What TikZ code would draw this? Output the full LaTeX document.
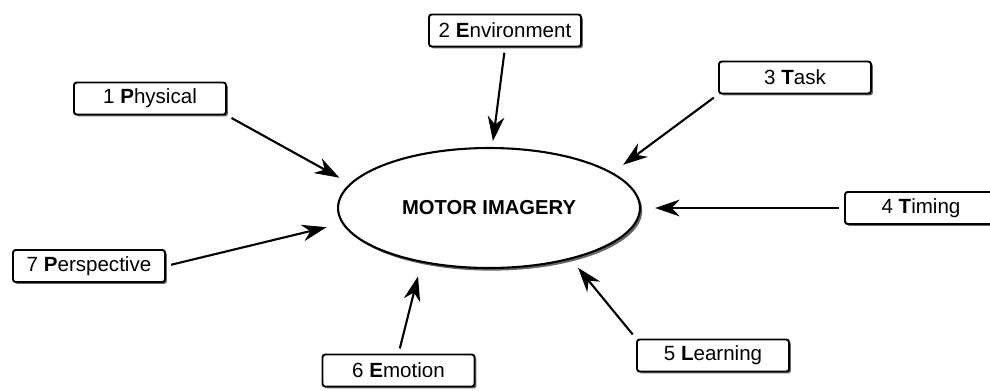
\documentclass[tikz,border=0pt]{standalone}
\usepackage{fontspec}
\setmainfont{Liberation Sans}
\usepackage{tikz}
\usetikzlibrary{arrows.meta,shapes.geometric,shadows}

\begin{document}
\begin{tikzpicture}[x=0.02cm,y=-0.02cm,
  factor/.style={draw,line width=1.1pt,rounded corners=1.5pt,fill=white,
    minimum width=3.04cm,minimum height=0.64cm,inner sep=0pt,
    font=\fontsize{11.7}{14}\selectfont,
    drop shadow={shadow xshift=1.1pt,shadow yshift=-1.1pt,fill=black!75,opacity=0.8}},
  feed/.style={-{Stealth[length=14pt,width=9.5pt,inset=4.5pt]},line width=1.2pt,shorten <=3pt}]
\useasboundingbox (0,0) rectangle (990,390);

% Centre
\node[ellipse,draw,line width=1.2pt,fill=white,minimum width=6.04cm,minimum height=2.4cm,
  inner sep=0pt,font=\bfseries\fontsize{11.5}{14}\selectfont,
  drop shadow={shadow xshift=1.3pt,shadow yshift=-1.5pt,fill=black!75,opacity=0.8}]
  (mi) at (489,208) {MOTOR IMAGERY};

% Factors
\node[factor] (phys) at (150,98.5) {1 \textbf{P}hysical};
\node[factor] (env) at (505,30.5) {2 \textbf{E}nvironment};
\node[factor] (task) at (795,77.5) {3 \textbf{T}ask};
\node[factor] (tim) at (921,208) {4 \textbf{T}iming};
\node[factor] (learn) at (713,355.5) {5 \textbf{L}earning};
\node[factor] (emo) at (398.5,370.5) {6 \textbf{E}motion};
\node[factor] (persp) at (89,266) {7 \textbf{P}erspective};

% Arrows
\draw[feed,shorten >=6.8pt] (phys.south east) -- (mi.170);
\draw[feed,shorten >=3.4pt] (env.south) -- (mi.87);
\draw[feed,shorten >=7.4pt] (task.south west) -- (mi.16);
\draw[feed,shorten >=8pt] (tim.west) -- (mi.east);
\draw[feed,shorten >=6.2pt] (learn.north west) -- (mi.-32);
\draw[feed,shorten >=8pt] (emo.north) -- (mi.-141);
\draw[feed,shorten >=9pt] (persp.east) -- (mi.-174);
\end{tikzpicture}
\end{document}
